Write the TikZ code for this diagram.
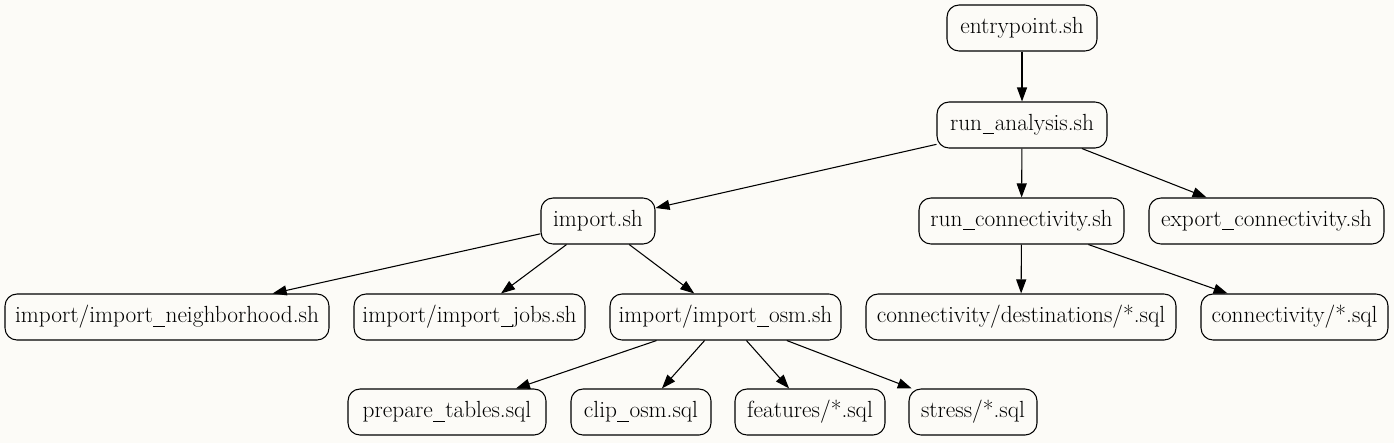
\documentclass[tikz,border=0pt]{standalone}
\usetikzlibrary{arrows.meta}
\definecolor{bg}{HTML}{FCFBF7}
\newcommand{\us}{\kern0.02em\rule[-0.16em]{0.5em}{0.045em}\kern0.02em}
\begin{document}
\begin{tikzpicture}[x=0.75pt,y=-0.75pt,
  box/.style={draw, line width=0.8pt, rounded corners=9pt, inner sep=0pt,
    minimum height=34.5pt, font=\fontsize{17.5}{20}\selectfont},
  edge/.style={line width=0.8pt, -{Triangle[length=10.5pt,width=7.5pt]}}]
\fill[bg] (0,0) rectangle (1394,443);
\useasboundingbox (0,0) rectangle (1394,443);
\node[box, minimum width=112.5pt] (entry) at (1022,28) {entrypoint.sh};
\node[box, minimum width=127.5pt] (run) at (1022,125) {run\us analysis.sh};
\node[box, minimum width=85.5pt] (imp) at (598,221) {import.sh};
\node[box, minimum width=153.75pt] (rconn) at (1021.5,221) {run\us connectivity.sh};
\node[box, minimum width=176.25pt] (econn) at (1266.5,221) {export\us connectivity.sh};
\node[box, minimum width=243pt] (nbh) at (167,317) {import/import\us neighborhood.sh};
\node[box, minimum width=173.25pt] (jobs) at (469.5,317) {import/import\us jobs.sh};
\node[box, minimum width=173.25pt] (osm) at (725.5,317) {import/import\us osm.sh};
\node[box, minimum width=232.5pt] (dest) at (1021,317) {connectivity/destinations/*.sql};
\node[box, minimum width=140.25pt] (csql) at (1294.5,317) {connectivity/*.sql};
\node[box, minimum width=148.5pt] (prep) at (447,412) {prepare\us tables.sql};
\node[box, minimum width=105pt] (clip) at (641,412) {clip\us osm.sql};
\node[box, minimum width=112.5pt] (feat) at (810,412) {features/*.sql};
\node[box, minimum width=96pt] (stress) at (973,412) {stress/*.sql};
\draw[edge] (entry) -- (run);
\draw[edge] (run) -- (imp);
\draw[edge] (run) -- (rconn);
\draw[edge] (run) -- (econn);
\draw[edge] (imp) -- (nbh);
\draw[edge] (imp) -- (jobs);
\draw[edge] (imp) -- (osm);
\draw[edge] (rconn) -- (dest);
\draw[edge] (rconn) -- (csql);
\draw[edge] (osm) -- (prep);
\draw[edge] (osm) -- (clip);
\draw[edge] (osm) -- (feat);
\draw[edge] (osm) -- (stress);
\end{tikzpicture}
\end{document}
